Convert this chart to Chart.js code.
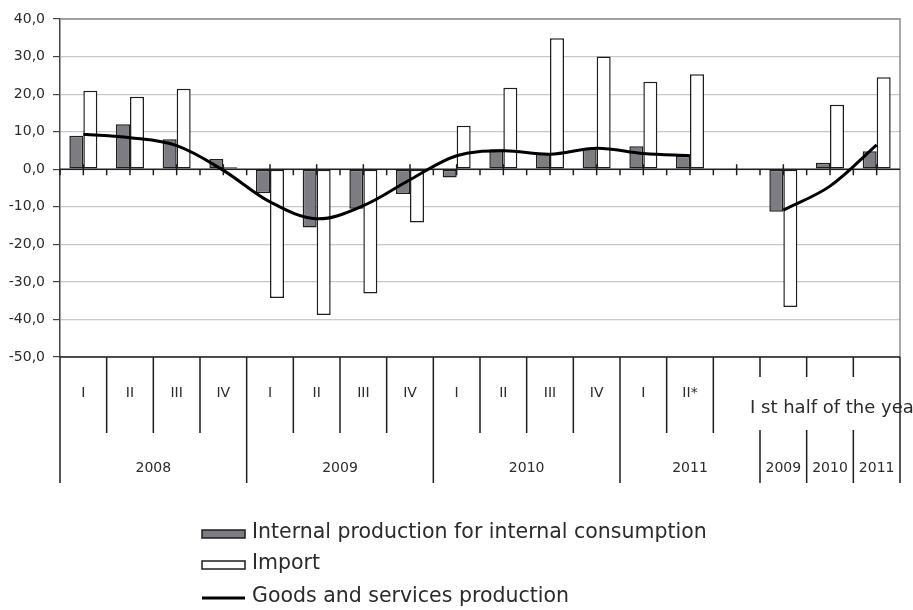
<!DOCTYPE html>
<html>
<head>
<meta charset="utf-8">
<script src="https://cdn.jsdelivr.net/npm/chart.js@4.4.1/dist/chart.umd.min.js"></script>
<style>
  html, body { margin: 0; padding: 0; background: #fff; }
</style>
</head>
<body>
<canvas id="chart" width="913" height="610"></canvas>
<script>
// period labels
const quarters = ['I', 'II', 'III', 'IV', 'I', 'II', 'III', 'IV', 'I', 'II', 'III', 'IV', 'I', 'II*'];
const years = ['2008', '2009', '2010', '2011'];
const halfYears = ['2009', '2010', '2011'];
const halfTitle = 'I st half of the year';

// growth rates, % (null = empty slot between quarters and half-years)
const internalProd = [8.9, 12.0, 8.0, 2.7, -6.4, -15.5, -10.5, -6.6, -2.2, 5.3, 4.2, 5.4, 6.1, 3.6, null, -11.3, 1.7, 4.8];
const imports = [20.9, 19.3, 21.4, 0.5, -34.3, -38.8, -33.1, -14.2, 11.6, 21.7, 34.9, 30.0, 23.3, 25.3, null, -36.7, 17.2, 24.5];
const production = [9.3, 8.4, 6.3, -0.3, -8.7, -13.2, -9.7, -2.8, 3.6, 4.9, 4.0, 5.6, 4.2, 3.6, null, -10.9, -4.5, 6.5];

const labels = quarters.map((q, i) => q + ' ' + years[Math.floor(i / 4)])
  .concat([''], halfYears.map(y => 'I half ' + y));

const FONT = '"DejaVu Sans", Verdana, sans-serif';
const INK = '#1e1e1e';
const TEXT = '#2b2b2b';

// zero axis with category ticks, plus plot frame
const axisPlugin = {
  id: 'zeroAxis',
  beforeDatasetsDraw(chart) {
    const { ctx, chartArea: a, scales: { x, y } } = chart;
    const n = chart.data.labels.length;
    const w = (a.right - a.left) / n;
    const y0 = y.getPixelForValue(0);
    ctx.save();
    ctx.strokeStyle = '#8c8c8c';
    ctx.lineWidth = 1.5;
    ctx.beginPath();
    ctx.moveTo(a.left, a.top);
    ctx.lineTo(a.right, a.top);
    ctx.lineTo(a.right, a.bottom);
    ctx.stroke();

    ctx.strokeStyle = INK;
    ctx.lineWidth = 1.5;
    ctx.beginPath();
    ctx.moveTo(a.left, y0);
    ctx.lineTo(a.right, y0);
    for (let i = 0; i < n; i++) {
      const cx = x.getPixelForValue(i);
      ctx.moveTo(cx - w / 2, y0);
      ctx.lineTo(cx - w / 2, y0 + 6);
      ctx.moveTo(cx, y0 - 5);
      ctx.lineTo(cx, y0 + 6);
    }
    ctx.stroke();
    ctx.restore();
  }
};

// period table under the plot and the legend
const tablePlugin = {
  id: 'periodTable',
  afterDraw(chart) {
    const { ctx, chartArea: a, scales: { x } } = chart;
    const n = chart.data.labels.length;
    const w = (a.right - a.left) / n;
    const edge = i => x.getPixelForValue(i) - w / 2;
    const top = a.bottom;
    const qBottom = top + 76, bottom = top + 126;
    const nq = quarters.length;
    const halfStart = nq + 1;

    ctx.save();
    ctx.strokeStyle = INK;
    ctx.lineWidth = 1.5;
    ctx.beginPath();
    ctx.moveTo(a.left, top);
    ctx.lineTo(a.right, top);
    // quarter and year dividers
    for (let i = 0; i <= nq; i++) {
      const ex = edge(i);
      const full = i % 4 === 0;
      ctx.moveTo(ex, top);
      ctx.lineTo(ex, full ? bottom : qBottom);
    }
    // half-year dividers, broken around the title
    for (let i = halfStart; i <= n; i++) {
      const ex = i === n ? a.right : edge(i);
      ctx.moveTo(ex, top);
      ctx.lineTo(ex, top + (i === n ? 126 : 20));
      ctx.moveTo(ex, top + 73);
      ctx.lineTo(ex, bottom);
    }
    ctx.stroke();

    ctx.fillStyle = TEXT;
    ctx.textAlign = 'center';
    ctx.textBaseline = 'middle';
    ctx.font = '14px ' + FONT;
    quarters.forEach((q, i) => ctx.fillText(q, x.getPixelForValue(i), top + 36));
    years.forEach((yr, k) => {
      const from = edge(k * 4);
      const to = k === years.length - 1 ? edge(halfStart) : edge(k * 4 + 4);
      ctx.fillText(yr, (from + to) / 2, top + 111);
    });
    halfYears.forEach((yr, k) => ctx.fillText(yr, x.getPixelForValue(halfStart + k), top + 111));
    ctx.font = '18px ' + FONT;
    ctx.textAlign = 'left';
    ctx.fillText(halfTitle, edge(halfStart) - 10, top + 51);

    // legend
    const ds = chart.data.datasets;
    const lx = 202, lw = 43, tx = 252;
    const rows = [534, 565, 598];
    ctx.font = '20.5px ' + FONT;
    ds.forEach((d, k) => {
      const ry = rows[k];
      ctx.lineWidth = 1.5;
      ctx.strokeStyle = INK;
      if (d.type === 'line') {
        ctx.lineWidth = 3;
        ctx.strokeStyle = d.borderColor;
        ctx.beginPath();
        ctx.moveTo(lx, ry);
        ctx.lineTo(lx + lw, ry);
        ctx.stroke();
      } else {
        ctx.fillStyle = d.backgroundColor;
        ctx.fillRect(lx, ry - 4, lw, 8);
        ctx.strokeRect(lx, ry - 4, lw, 8);
      }
      ctx.fillStyle = TEXT;
      ctx.fillText(d.label, tx, ry - 1);
    });
    ctx.restore();
  }
};

Chart.defaults.font.family = FONT;

new Chart(document.getElementById('chart'), {
  type: 'bar',
  data: {
    labels: labels,
    datasets: [
      {
        label: 'Internal production for internal consumption',
        data: internalProd,
        backgroundColor: '#7c7c82',
        borderColor: INK,
        borderWidth: 1.5,
        borderSkipped: false,
        categoryPercentage: 0.6,
        barPercentage: 1,
        order: 1
      },
      {
        label: 'Import',
        data: imports,
        backgroundColor: '#ffffff',
        borderColor: INK,
        borderWidth: 1.5,
        borderSkipped: false,
        categoryPercentage: 0.6,
        barPercentage: 1,
        order: 1
      },
      {
        type: 'line',
        label: 'Goods and services production',
        data: production,
        borderColor: '#000000',
        borderWidth: 3,
        pointRadius: 0,
        tension: 0.35,
        spanGaps: false,
        order: 0
      }
    ]
  },
  options: {
    responsive: false,
    animation: false,
    layout: { padding: { top: 19, right: 13, bottom: 253, left: 0 } },
    plugins: { legend: { display: false }, tooltip: { enabled: false } },
    scales: {
      x: { display: false },
      y: {
        min: -50,
        max: 40,
        ticks: {
          stepSize: 10,
          padding: 8,
          color: TEXT,
          font: { size: 14 },
          callback: v => v.toFixed(1).replace('.', ',')
        },
        grid: { color: '#c8c8c8', tickColor: '#444', tickLength: 7, lineWidth: 1.2 },
        border: { color: '#444', width: 1.5 },
        afterFit: s => { s.width = 60; }
      }
    }
  },
  plugins: [axisPlugin, tablePlugin]
});
</script>
</body>
</html>
